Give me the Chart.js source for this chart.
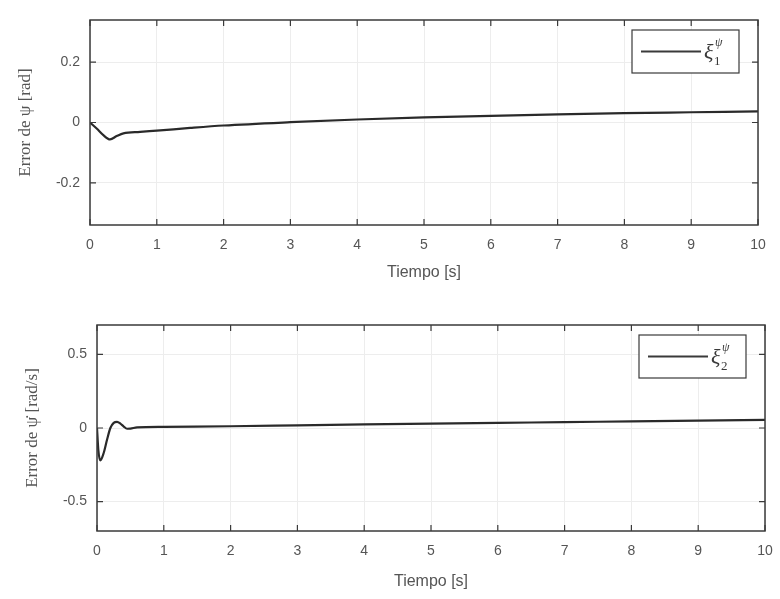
<!DOCTYPE html>
<html>
<head>
<meta charset="utf-8">
<script src="https://cdn.jsdelivr.net/npm/chart.js@4/dist/chart.umd.min.js"></script>
<style>
  body { margin: 0; background: #fff; }
  .panel { position: absolute; left: 0; width: 780px; }
  #top { top: 0; height: 300px; }
  #bottom { top: 300px; height: 299px; }
</style>
</head>
<body>
<div class="panel" id="top"><canvas id="c1"></canvas></div>
<div class="panel" id="bottom"><canvas id="c2"></canvas></div>
<script>
// values
const timePsi = [0, 0.1, 0.2, 0.3, 0.4, 0.5, 0.75, 1, 1.5, 2, 3, 4, 5, 6, 7, 8, 9, 10];
const errPsi = [0, -0.02, -0.042, -0.056, -0.045, -0.036, -0.031, -0.027, -0.018, -0.01, 0.001, 0.01, 0.017, 0.022, 0.027, 0.031, 0.034, 0.037];

const timeDPsi = [0, 0.02, 0.05, 0.1, 0.15, 0.2, 0.25, 0.3, 0.35, 0.4, 0.45, 0.5, 0.6, 1, 2, 3, 4, 5, 6, 7, 8, 9, 10];
const errDPsi = [0, -0.15, -0.22, -0.17, -0.08, 0.0, 0.035, 0.042, 0.03, 0.01, -0.005, -0.004, 0.004, 0.008, 0.012, 0.018, 0.024, 0.03, 0.035, 0.04, 0.045, 0.05, 0.055];

const xTicks = [0, 1, 2, 3, 4, 5, 6, 7, 8, 9, 10];
const yTicksPsi = [-0.2, 0, 0.2];
const yTicksDPsi = [-0.5, 0, 0.5];

const xTitle = 'Tiempo [s]';
const yTitlePsi = 'Error de \u03C8 [rad]';
const yTitleDPsi = 'Error de \u03C8\u0307 [rad/s]';
const legendSub = ['1', '2'];

const ink = '#3a3a3a';
const textGrey = '#555';

// MATLAB style box: inward ticks on all four sides + legend box
const boxPlugin = {
  id: 'box',
  afterDraw(chart, args, opts) {
    const { ctx, chartArea: a, scales } = chart;
    ctx.save();
    ctx.strokeStyle = ink;
    ctx.lineWidth = 1.5;
    ctx.strokeRect(a.left, a.top, a.right - a.left, a.bottom - a.top);
    ctx.lineWidth = 1.2;
    const len = 6;
    scales.x.ticks.forEach(t => {
      const px = scales.x.getPixelForValue(t.value);
      ctx.beginPath();
      ctx.moveTo(px, a.bottom); ctx.lineTo(px, a.bottom - len);
      ctx.moveTo(px, a.top); ctx.lineTo(px, a.top + len);
      ctx.stroke();
    });
    scales.y.ticks.forEach(t => {
      const py = scales.y.getPixelForValue(t.value);
      ctx.beginPath();
      ctx.moveTo(a.left, py); ctx.lineTo(a.left + len, py);
      ctx.moveTo(a.right, py); ctx.lineTo(a.right - len, py);
      ctx.stroke();
    });

    // legend
    const w = 107, h = 43;
    const bx = a.right - 19 - w, by = a.top + 10;
    ctx.fillStyle = '#fff';
    ctx.fillRect(bx, by, w, h);
    ctx.lineWidth = 1.2;
    ctx.strokeRect(bx, by, w, h);
    const ly = by + h / 2;
    ctx.lineWidth = 2.2;
    ctx.beginPath();
    ctx.moveTo(bx + 9, ly); ctx.lineTo(bx + 69, ly);
    ctx.stroke();
    ctx.fillStyle = ink;
    ctx.textBaseline = 'alphabetic';
    ctx.font = 'italic 22px "Liberation Serif"';
    ctx.fillText('\u03BE', bx + 72, ly + 7);
    ctx.font = '13px "Liberation Serif"';
    ctx.fillText(opts.sub, bx + 82, ly + 13);
    ctx.font = 'italic 12px "Liberation Serif"';
    ctx.fillText('\u03C8', bx + 83, ly - 6);
    ctx.restore();
  }
};

function makeChart(id, times, values, yMin, yMax, yTicks, yTitle, sub, pad, yWidth, xHeight, xTitlePad, yTitlePad) {
  const points = times.map((t, i) => ({ x: t, y: values[i] }));
  return new Chart(document.getElementById(id), {
    type: 'scatter',
    data: {
      datasets: [{
        data: points,
        showLine: true,
        borderColor: '#2a2a2a',
        borderWidth: 2.2,
        pointRadius: 0,
        cubicInterpolationMode: 'monotone'
      }]
    },
    options: {
      responsive: true,
      maintainAspectRatio: false,
      animation: false,
      layout: { padding: pad },
      plugins: {
        legend: { display: false },
        tooltip: { enabled: false },
        box: { sub: sub }
      },
      scales: {
        x: {
          type: 'linear',
          min: 0,
          max: 10,
          afterBuildTicks: s => { s.ticks = xTicks.map(v => ({ value: v })); },
          afterFit: s => { s.height = xHeight; s.paddingLeft = 0; s.paddingRight = 0; },
          border: { display: false },
          grid: { color: '#ededed', drawTicks: false },
          ticks: { padding: 12, color: textGrey, font: { family: 'Liberation Sans', size: 14 } },
          title: {
            display: true, text: xTitle, color: textGrey,
            font: { family: 'Liberation Sans', size: 16 },
            padding: { top: 0, bottom: xTitlePad }
          }
        },
        y: {
          min: yMin,
          max: yMax,
          afterBuildTicks: s => { s.ticks = yTicks.map(v => ({ value: v })); },
          afterFit: s => { s.width = yWidth; },
          border: { display: false },
          grid: { color: '#ededed', drawTicks: false },
          ticks: { padding: 10, color: textGrey, font: { family: 'Liberation Sans', size: 14 } },
          title: {
            display: true, text: yTitle, color: textGrey,
            font: { family: 'Liberation Serif', size: 17 },
            padding: { top: yTitlePad, bottom: 0 }
          }
        }
      }
    },
    plugins: [boxPlugin]
  });
}

makeChart('c1', timePsi, errPsi, -0.34, 0.34, yTicksPsi, yTitlePsi, legendSub[0],
  { left: 0, right: 22, top: 20, bottom: 0 }, 90, 75, 18, 15);
makeChart('c2', timeDPsi, errDPsi, -0.7, 0.7, yTicksDPsi, yTitleDPsi, legendSub[1],
  { left: 0, right: 15, top: 25, bottom: 0 }, 97, 68, 8, 22);
</script>
</body>
</html>
